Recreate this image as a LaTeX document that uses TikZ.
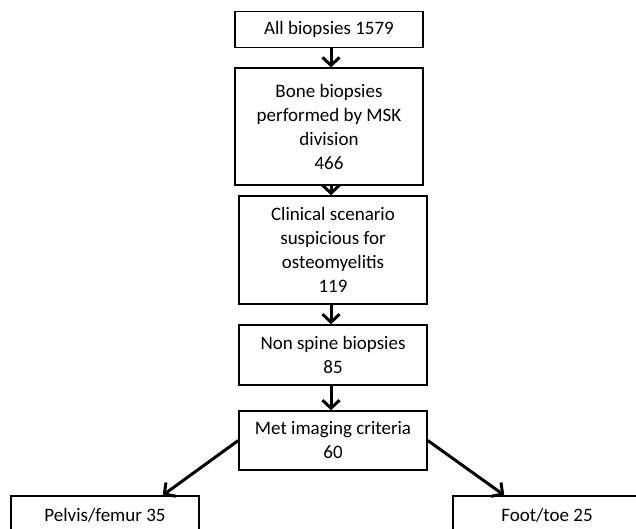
\documentclass[tikz,border=0pt]{standalone}
\usepackage{fontspec}
\setmainfont{Carlito}
\usetikzlibrary{arrows.meta,calc}
\begin{document}
\begin{tikzpicture}[x=1pt,y=-1pt,
  box/.style={draw,line width=1.5pt,minimum width=188pt,align=center,inner sep=0pt,
    font=\fontsize{19}{24}\selectfont},
  flow/.style={line width=3pt,-{Straight Barb[length=8pt,width=17pt]}}]
\useasboundingbox (0,0) rectangle (636,528);
\clip (0,0) rectangle (636,528);
% main column
\node[box,minimum height=36pt]  (all)  at (329,29.7)  {All biopsies 1579};
\node[box,minimum height=117pt] (bone) at (329,126.7) {Bone biopsies\\performed by MSK\\division\\466};
\node[box,minimum height=108pt] (clin) at (333,250)   {Clinical scenario\\suspicious for\\osteomyelitis\\119};
\node[box,minimum height=60pt]  (nons) at (333,355)   {Non spine biopsies\\85};
\node[box,minimum height=59pt]  (met)  at (333,440.5) {Met imaging criteria\\60};
% outcome boxes
\node[box,minimum height=38pt]  (pelv) at (105,515)   {Pelvis/femur 35};
\node[box,minimum height=38pt]  (foot) at (547,515)   {Foot/toe 25};
% connectors
\coordinate (col) at (331,0);
\draw[flow] (all.south -| col)  -- (bone.north -| col);
\draw[flow] (bone.south -| col) -- (clin.north -| col);
\draw[flow] (clin.south -| col) -- (nons.north -| col);
\draw[flow] (nons.south -| col) -- (met.north -| col);
\coordinate (pelvtip) at ($(pelv.north east)+(-37,0)$);
\coordinate (foottip) at ($(foot.north west)+(52,0)$);
\draw[flow] (met.west) -- (pelvtip);
\draw[flow] (met.east) -- (foottip);
\end{tikzpicture}
\end{document}
